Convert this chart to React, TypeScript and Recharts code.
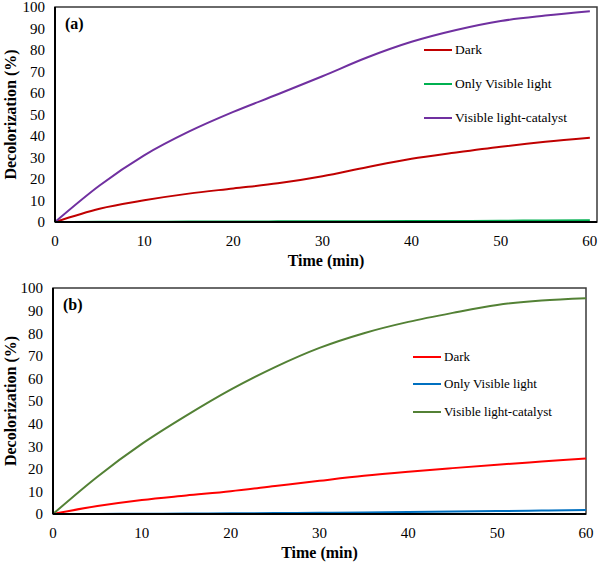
import React from 'react';
import { LineChart, Line, XAxis, YAxis, ReferenceArea, Legend, Label } from 'recharts';

const timeMin = [0, 5, 10, 15, 20, 25, 30, 35, 40, 45, 50, 55, 60];
const aDark = [0, 6.2, 10.1, 13.2, 15.6, 18, 21.3, 25.5, 29.4, 32.3, 35, 37.3, 39.2];
const aOnlyVisible = [0, 0.1, 0.1, 0.2, 0.2, 0.3, 0.3, 0.4, 0.5, 0.5, 0.6, 0.7, 0.8];
const aCatalyst = [0, 17, 31, 42, 51.2, 59.4, 67.8, 76.5, 83.8, 89.3, 93.5, 96, 98];
const bDark = [0, 3.5, 6.2, 8.2, 10.1, 12.4, 14.7, 16.9, 18.7, 20.3, 21.8, 23.2, 24.6];
const bOnlyVisible = [0, 0.05, 0.1, 0.2, 0.3, 0.4, 0.5, 0.7, 0.9, 1.1, 1.3, 1.5, 1.8];
const bCatalyst = [0, 16.5, 31, 43.5, 55, 65, 73.5, 80, 85, 89, 92.5, 94.5, 95.5];
const yTicks = [0, 10, 20, 30, 40, 50, 60, 70, 80, 90, 100];
const xTicks = [0, 10, 20, 30, 40, 50, 60];
const seriesNames = ['Dark', 'Only Visible light', 'Visible light-catalyst'];

const FONT = '"Liberation Serif", "DejaVu Serif", "Times New Roman", Tinos, Times, serif';

const build = (d: number[], o: number[], c: number[]) =>
  timeMin.map((t, i) => ({ t, dark: d[i], only: o[i], cat: c[i] }));

const dataA = build(aDark, aOnlyVisible, aCatalyst);
const dataB = build(bDark, bOnlyVisible, bCatalyst);

type PanelProps = {
  data: any[];
  tag: string;
  height: number;
  margin: { top: number; right: number; left: number; bottom: number };
  yWidth: number;
  xHeight: number;
  xMax: number;
  colors: string[];
  legendLeft: number;
  legendTop: number;
  legendRow: number;
  legendFont: number;
  xLabelOffset: number;
};

const makeLegend = (row: number, fontSize: number) => (props: any) => {
  const payload = props.payload || [];
  return (
    <div style={{ fontFamily: FONT, fontSize, color: '#000' }}>
      {payload.map((p: any) => (
        <div key={p.value} style={{ height: row, display: 'flex', alignItems: 'center', whiteSpace: 'nowrap' }}>
          <svg width={28} height={4} style={{ marginRight: 3 }}>
            <line x1={0} y1={2} x2={28} y2={2} stroke={p.color} strokeWidth={2} />
          </svg>
          <span>{p.value}</span>
        </div>
      ))}
    </div>
  );
};

function Panel(p: PanelProps) {
  const tickStyle = { fontFamily: FONT, fontSize: 15, fill: '#000' };
  const titleStyle: any = { fontFamily: FONT, fontSize: 16, fontWeight: 'bold', fill: '#000' };
  return (
    <LineChart width={600} height={p.height} data={p.data} margin={p.margin} style={{ fontFamily: FONT }}>
      <ReferenceArea x1={0} x2={p.xMax} y1={0} y2={100} fill="none" stroke="#3a3a3a" strokeWidth={1.5} ifOverflow="visible" />
      <XAxis
        dataKey="t"
        type="number"
        domain={[0, p.xMax]}
        ticks={xTicks}
        interval={0}
        height={p.xHeight}
        tickLine={false}
        tickMargin={7}
        axisLine={{ stroke: '#000', strokeWidth: 2 }}
        tick={tickStyle}
      >
        <Label
          content={(lp: any) => {
            const vb = lp.viewBox;
            const cx = vb.x + vb.width / 2;
            return (
              <text x={cx} y={vb.y + vb.height - p.xLabelOffset} textAnchor="middle" style={titleStyle}>
                Time (min)
              </text>
            );
          }}
        />
      </XAxis>
      <YAxis
        type="number"
        domain={[0, 100]}
        ticks={yTicks}
        interval={0}
        width={p.yWidth}
        tickLine={false}
        tickMargin={4}
        axisLine={{ stroke: '#000', strokeWidth: 2 }}
        tick={tickStyle}
      >
        <Label
          content={(lp: any) => {
            const vb = lp.viewBox;
            const cy = vb.y + vb.height / 2;
            const x = 10;
            return (
              <text x={x} y={cy} transform={`rotate(-90, ${x}, ${cy})`} textAnchor="middle" dominantBaseline="central" style={titleStyle}>
                Decolorization (%)
              </text>
            );
          }}
        />
      </YAxis>
      <Legend
        layout="vertical"
        align="center"
        verticalAlign="middle"
        content={makeLegend(p.legendRow, p.legendFont)}
        wrapperStyle={{ left: p.legendLeft, top: p.legendTop, width: 200, height: p.legendRow * 3 }}
      />
      <Line type="monotone" dataKey="dark" name={seriesNames[0]} stroke={p.colors[0]} strokeWidth={2} dot={false} isAnimationActive={false} />
      <Line type="monotone" dataKey="only" name={seriesNames[1]} stroke={p.colors[1]} strokeWidth={2} dot={false} isAnimationActive={false} />
      <Line type="monotone" dataKey="cat" name={seriesNames[2]} stroke={p.colors[2]} strokeWidth={2} dot={false} isAnimationActive={false} />
      <text x={p.yWidth + 10} y={p.margin.top + 16} dominantBaseline="central" style={titleStyle}>{p.tag}</text>
    </LineChart>
  );
}

export default function App() {
  return (
    <div style={{ position: 'absolute', left: 0, top: 0, width: 600, height: 562, background: '#fff', fontFamily: FONT }}>
      <Panel
        data={dataA}
        tag="(a)"
        height={280}
        margin={{ top: 7, right: 3, left: 0, bottom: 0 }}
        yWidth={55}
        xHeight={58}
        xMax={60.8}
        colors={['#C00000', '#00B050', '#7030A0']}
        legendLeft={424}
        legendTop={33}
        legendRow={34}
        legendFont={13.5}
        xLabelOffset={14}
      />
      <Panel
        data={dataB}
        tag="(b)"
        height={282}
        margin={{ top: 8, right: 14, left: 0, bottom: 0 }}
        yWidth={53}
        xHeight={48}
        xMax={60}
        colors={['#FF0000', '#0070C0', '#538135']}
        legendLeft={413}
        legendTop={63}
        legendRow={27.5}
        legendFont={13}
        xLabelOffset={4}
      />
    </div>
  );
}
